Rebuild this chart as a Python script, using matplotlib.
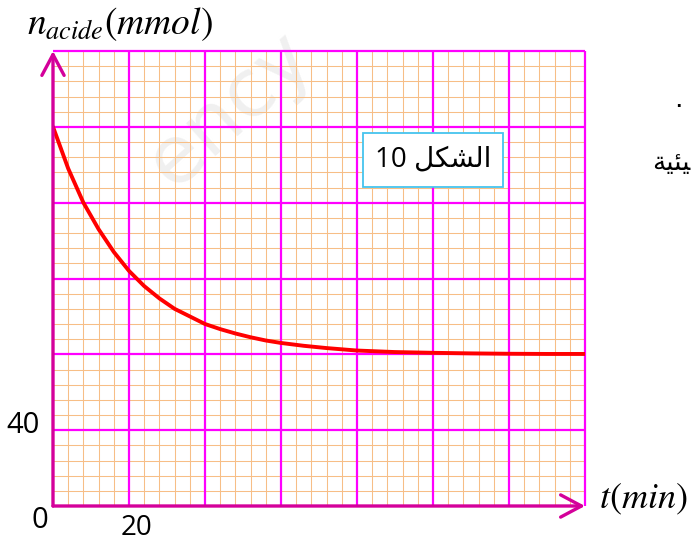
import matplotlib
matplotlib.use("Agg")
import matplotlib.pyplot as plt
from matplotlib.patches import Rectangle

# ---- data ----
t_min = [0, 4, 8, 12, 16, 20, 24, 28, 32, 36, 40, 44, 48, 52, 56, 60,
         66, 72, 80, 90, 100, 110, 120, 130, 140]
n_acide = [200, 178, 160, 146, 134, 124, 116, 109.5, 104, 100, 96, 93.3, 91, 89, 87.3, 86,
           84.5, 83.3, 82, 81.2, 80.8, 80.5, 80.3, 80.2, 80.2]

x_major = [0, 20, 40, 60, 80, 100, 120, 140]
y_major = [0, 40, 80, 120, 160, 200, 240]
x_minor_step = 4
y_minor_step = 8
tick_labels = {"x0": "0", "x": "20", "y": "40"}
ylabel = r"$n_{acide}(mmol)$"
xlabel = r"$t(min)$"
# "الشكل 10" in joined Arabic forms, laid out in visual (left-to-right) order
box_text = "10 \ufede\ufedc\ufeb8\ufedf\ufe8d"
# fragment "...يئية" of surrounding text, joined forms, visual order
side_text = "\ufe94\ufef4\ufe8c\ufef4"

W, H = 691, 542
plt.rcParams['mathtext.fontset'] = 'stix'
fig = plt.figure(figsize=(W / 100, H / 100), dpi=100)
ax = fig.add_axes([53 / W, (H - 506) / H, (585 - 53) / W, (506 - 51) / H])
ax.set_facecolor('none')
ax.set_xlim(0, 140)
ax.set_ylim(0, 240)
for s in ax.spines.values():
    s.set_visible(False)
ax.set_xticks([])
ax.set_yticks([])

MAG = '#FF00FF'
DARK = '#D4009A'
ORANGE = '#F7BE86'

# minor grid
xm = [v for v in range(0, 141, x_minor_step) if v not in x_major]
ym = [v for v in range(0, 241, y_minor_step) if v not in y_major]
ax.vlines(xm, 0, 240, colors=ORANGE, lw=0.75, zorder=1)
ax.hlines(ym, 0, 140, colors=ORANGE, lw=0.75, zorder=1)
# major grid
ax.vlines(x_major[1:], 0, 240, colors=MAG, lw=1.6, zorder=2, clip_on=False)
ax.hlines(y_major[1:], 0, 140, colors=MAG, lw=1.6, zorder=2, clip_on=False)

# axes arrows
for xy in [(0, 1), (1, 0)]:
    ax.annotate('', xy=xy, xytext=(0, 0), xycoords='axes fraction',
                arrowprops=dict(arrowstyle='->,head_length=0.75,head_width=0.4',
                                color=DARK, lw=2.4, mutation_scale=20,
                                shrinkA=0, shrinkB=0), zorder=5)

# curve
ax.plot(t_min, n_acide, color='#FF0000', lw=2.8, zorder=4, solid_capstyle='round')

# tick labels
fnt = ['Open Sans', 'DejaVu Sans']
ax.text(-3.4, -7.6, tick_labels["x0"], fontsize=21, family=fnt, ha='center', va='center', clip_on=False)
ax.text(22.1, -11.6, tick_labels["x"], fontsize=20, family=fnt, ha='center', va='center', clip_on=False)
ax.text(-7.8, 42.3, tick_labels["y"], fontsize=21, family=fnt, ha='center', va='center', clip_on=False)

# axis labels
fig.text(27 / W, 1 - 34 / H, ylabel, fontsize=27, ha='left', va='baseline')
fig.text(599 / W, 1 - 508 / H, xlabel, fontsize=26, ha='left', va='baseline')

# figure box
ax.add_patch(Rectangle((81.6, 168.5), 36.8, 28, facecolor='white', edgecolor='#45C4EE',
                       lw=1.3, zorder=6))
ax.text(100, 182.5, box_text, fontsize=20, family=fnt, ha='center', va='center', zorder=7)

# fragments of surrounding text at right edge
fig.text(690 / W, 1 - 163 / H, side_text, fontsize=19, family=['DejaVu Sans'],
         ha='right', va='center')
fig.text(678 / W, 1 - 100 / H, ".", fontsize=19, ha='center', va='center')

# watermark
fig.text(230 / W, 1 - 110 / H, "ency", fontsize=58, color='#F0F0F0', rotation=42,
         ha='center', va='center', zorder=-5, family='DejaVu Sans')

fig.savefig("out.png", dpi=100)
